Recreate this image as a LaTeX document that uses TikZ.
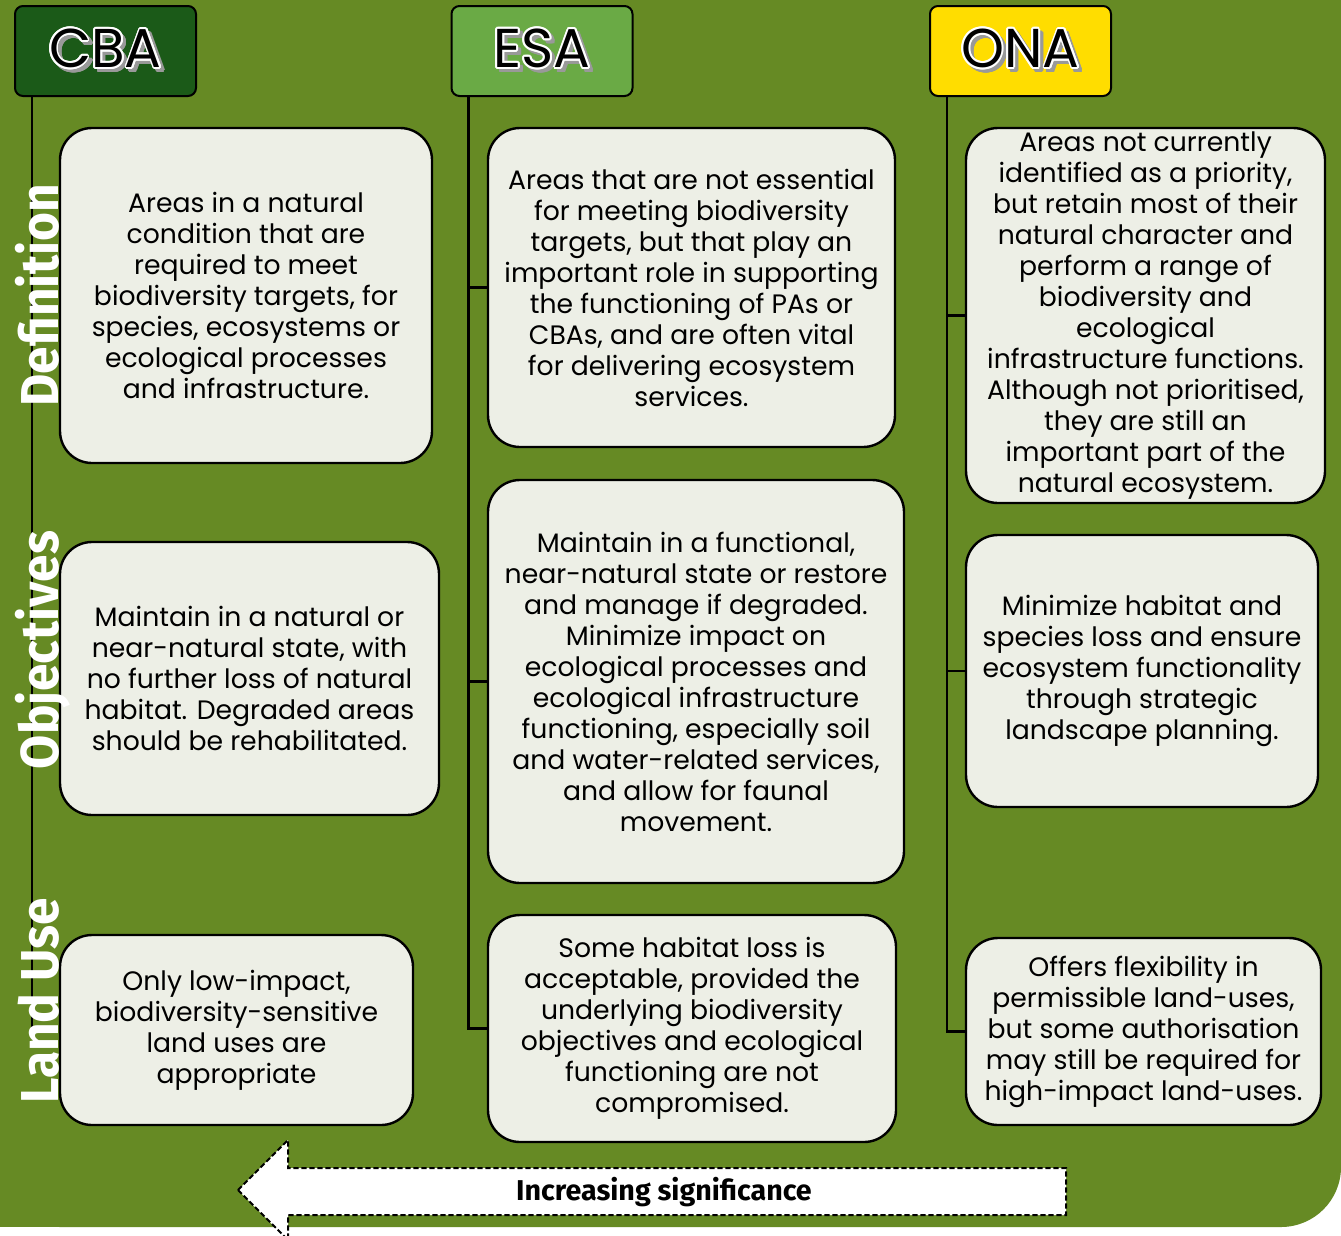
\documentclass[tikz,border=0pt]{standalone}
\usepackage{fontspec}
\usepackage{contour}
\usetikzlibrary{calc}
\setmainfont{Poppins}
\newfontfamily\sidefont[FakeStretch=0.93]{Fira Sans}
\newfontfamily\arrowfont{Fira Sans}
\definecolor{bggreen}{RGB}{102,138,36}
\definecolor{cbagreen}{RGB}{27,90,24}
\definecolor{esagreen}{RGB}{106,170,69}
\definecolor{onayellow}{RGB}{255,221,0}
\definecolor{boxfill}{RGB}{237,239,230}
\contourlength{1.3pt}
\newcommand{\hdrlabel}[1]{\makebox[0pt][l]{\hspace{2.5pt}\raisebox{-2.5pt}{\color{black!40}\contour{black!40}{#1}}}\contour{white}{#1}}
\tikzset{
  hdr/.style={draw=black, line width=1.5pt, rounded corners=6pt, minimum width=135.75pt, minimum height=67.5pt, inner sep=0pt, font=\fontsize{41}{41}\selectfont},
  info/.style={draw=black, line width=1.8pt, fill=boxfill, rounded corners=24pt, align=center, inner sep=0pt, font=\fontsize{20}{23.25}\selectfont},
  side/.style={rotate=90, anchor=base, text=white, inner sep=0pt, font=\fontsize{40}{40}\sidefont\bfseries},
  trunk/.style={line width=1.6pt},
}
\begin{document}
\begin{tikzpicture}[x=0.75pt, y=-0.75pt]
\useasboundingbox (0,0) rectangle (1341,1235);
% background
\fill[bggreen, rounded corners=45pt] (0,0) rectangle (1341,1227);
\fill[bggreen] (0,0) rectangle (1341,1100);
\fill[bggreen] (0,0) rectangle (1200,1227);

% headers
\node[hdr, fill=cbagreen] (cba) at (105.5,51) {\hdrlabel{CBA}};
\node[hdr, fill=esagreen] (esa) at (542,51) {\hdrlabel{ESA}};
\node[hdr, fill=onayellow] (ona) at (1020.5,51) {\hdrlabel{ONA}};

% CBA column
\node[info, minimum width=279pt, minimum height=251.25pt] (cba1) at (246,295.5)
  {Areas in a natural\\condition that are\\required to meet\\biodiversity targets, for\\species, ecosystems or\\ecological processes\\and infrastructure.};
\node[info, minimum width=284.25pt, minimum height=204.75pt] (cba2) at (249.5,678.5)
  {Maintain in a natural or\\near-natural state, with\\no further loss of natural\\habitat. Degraded areas\\should be rehabilitated.};
\node[info, minimum width=264.75pt, minimum height=142.5pt] (cba3) at (236.5,1030)
  {Only low-impact,\\biodiversity-sensitive\\land uses are\\appropriate};

% ESA column
\node[info, minimum width=305.25pt, minimum height=239.25pt] (esa1) at (691.5,287.5)
  {Areas that are not essential\\for meeting biodiversity\\targets, but that play an\\important role in supporting\\the functioning of PAs or\\CBAs, and are often vital\\for delivering ecosystem\\services.};
\node[info, minimum width=312pt, minimum height=302.25pt] (esa2) at (696,681.5)
  {Maintain in a functional,\\near-natural state or restore\\and manage if degraded.\\Minimize impact on\\ecological processes and\\ecological infrastructure\\functioning, especially soil\\and water-related services,\\and allow for faunal\\movement.};
\node[info, minimum width=306pt, minimum height=170.25pt] (esa3) at (692,1028.5)
  {Some habitat loss is\\acceptable, provided the\\underlying biodiversity\\objectives and ecological\\functioning are not\\compromised.};

% ONA column
\node[info, minimum width=269.25pt, minimum height=281.25pt] (ona1) at (1145.5,315.5)
  {Areas not currently\\identified as a priority,\\but retain most of their\\natural character and\\perform a range of\\biodiversity and\\ecological\\infrastructure functions.\\Although not prioritised,\\they are still an\\important part of the\\natural ecosystem.};
\node[info, minimum width=264pt, minimum height=204pt] (ona2) at (1142,671)
  {Minimize habitat and\\species loss and ensure\\ecosystem functionality\\through strategic\\landscape planning.};
\node[info, minimum width=266.25pt, minimum height=140.25pt] (ona3) at (1143.5,1031.5)
  {Offers flexibility in\\permissible land-uses,\\but some authorisation\\may still be required for\\high-impact land-uses.};

% trunks
\draw[trunk] ($(cba.south west)+(18,0)$) coordinate (cbatop) -- (cbatop |- cba3.west);
\draw[trunk] ($(esa.south west)+(18,0)$) coordinate (esatop) -- (esatop |- esa3.west) -- (esa3.west);
\draw[trunk] (esatop |- esa1.west) -- (esa1.west);
\draw[trunk] (esatop |- esa2.west) -- (esa2.west);
\draw[trunk] ($(ona.south west)+(18,0)$) coordinate (onatop) -- (onatop |- ona3.west) -- (ona3.west);
\draw[trunk] (onatop |- ona1.west) -- (ona1.west);
\draw[trunk] (onatop |- ona2.west) -- (ona2.west);

% row labels
\node[side] (def) at (58,295) {Definition};
\node[side] (obj) at (58,650) {Objectives};
\node[side] (use) at (58,1001) {Land Use};

% arrow
\draw[line width=1.5pt, dash pattern=on 4pt off 2pt, fill=white]
  (238,1190) -- (288,1140) -- (288,1168) -- (1066,1168) -- (1066,1215) -- (288,1215) -- (288,1240) -- cycle;
\node[font=\fontsize{21.5}{21.5}\arrowfont\bfseries] (sig) at (664,1192) {Increasing significance};
\end{tikzpicture}
\end{document}
